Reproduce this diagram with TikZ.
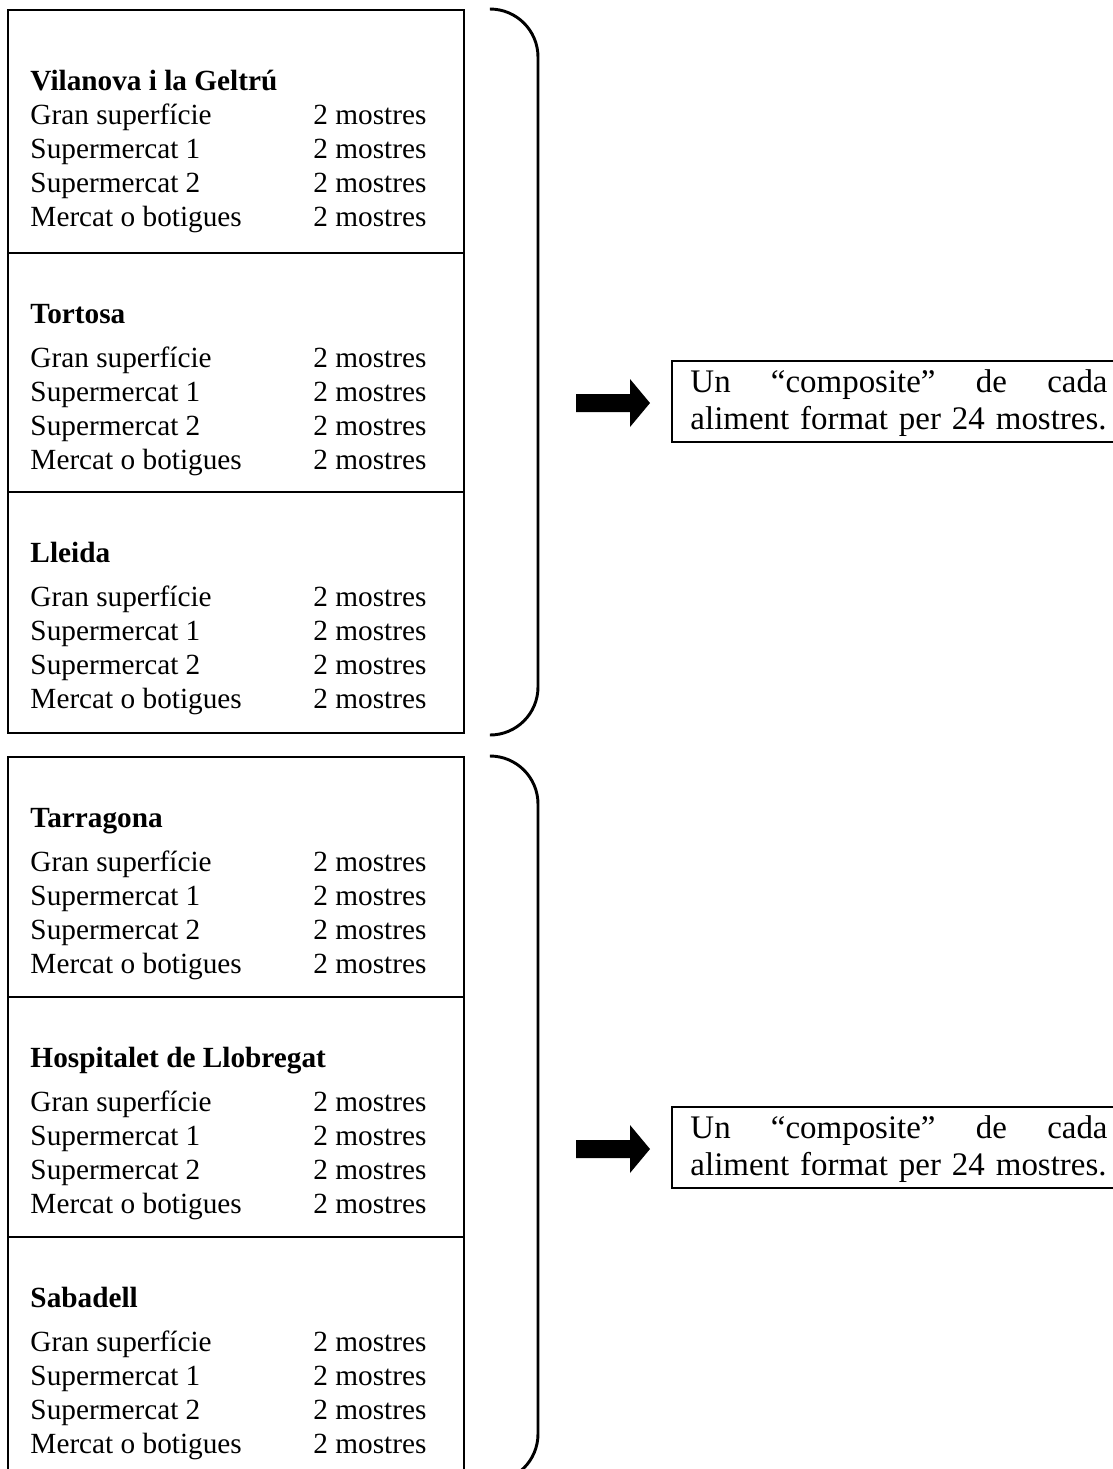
\documentclass[tikz,border=0pt]{standalone}
\usepackage{fontspec}
\setmainfont{Liberation Serif}
\usepackage{xcolor}
\usetikzlibrary{positioning}

\begin{document}
\begin{tikzpicture}[x=0.41pt,y=-0.41pt,
		frame/.style={line width=1.2pt},
		city/.style={anchor=base west,inner sep=0pt,font=\fontsize{12}{14}\selectfont\bfseries},
		entry/.style={anchor=base west,inner sep=0pt,font=\fontsize{12}{14}\selectfont},
		note/.style={anchor=west,inner sep=0pt,text width=171pt,font=\fontsize{13.5}{15.5}\selectfont}]
			\useasboundingbox (0,0) rectangle (1113,1469);
			\clip (0,0) rectangle (1113,1469);
			% the two groups of three towns
			\draw[frame] (8,10) rectangle (464,733);
			\draw[frame] (8,757) rectangle (464,1485);
			\foreach \y in {253,492,997,1237} {
				\draw[frame] (8,\y) -- (464,\y);
			}
			\foreach \t/\h/\n/\town in {10/80/vil/Vilanova i la Geltrú, 253/70/tor/Tortosa, 492/70/lle/Lleida,
					757/70/tar/Tarragona, 997/70/hos/Hospitalet de Llobregat, 1237/70/sab/Sabadell} {
				\node[city] (\n) at (30,\t+\h) {\town};
				\foreach \shop [count=\k] in {Gran superfície, Supermercat 1, Supermercat 2, Mercat o botigues} {
					\node[entry] (\n-\k) at (30,\t+80+34*\k) {\shop};
					\node[entry] (\n-\k-n) at (313,\t+80+34*\k) {2 mostres};
				}
			}
			% braces
			\draw[frame,rounded corners=19.7pt] (490,9) -- (538,9) -- (538,735) -- (490,735);
			\draw[frame,rounded corners=19.7pt] (490,756) -- (538,756) -- (538,1482) -- (490,1482);
			% arrows and composites
			\foreach \c/\n in {403/compA, 1149/compB} {
				\fill (576,\c-9) -- (630,\c-9) -- (630,\c-24) -- (650,\c) -- (630,\c+24) -- (630,\c+9) -- (576,\c+9) -- cycle;
				\draw[frame] (672,\c-42) rectangle (1130,\c+39);
%				\draw[frame] (672,\c-45) -- (1113,\c-45);
				\node[note] (\n) at (690,\c) {Un\hfill “composite”\hfill de\hfill cada\\aliment format per 24 mostres.};
			}
		\end{tikzpicture}
\end{document}
